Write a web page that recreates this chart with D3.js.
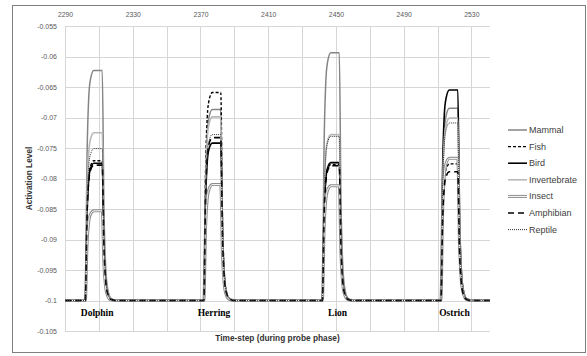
<!DOCTYPE html>
<html lang="en">

<head>
    <meta charset="UTF-8">
    <title>Activation level during probe phase</title>
    <script src="https://d3js.org/d3.v7.min.js"></script>
    <style>
        html,
        body {
            margin: 0;
            padding: 0;
            background: #fff;
        }

        svg {
            display: block;
            font-family: "Liberation Sans", Arial, sans-serif;
        }
    </style>
</head>

<body>
    <svg width="587" height="356"></svg>
    <script>
        // time steps shared by every series (pulse onsets 2302, 2372, 2442, 2512)
        const timeSteps = [2290,
            2302, 2303, 2304, 2305, 2307, 2312, 2313, 2314, 2315, 2317, 2320,
            2372, 2373, 2374, 2375, 2377, 2382, 2383, 2384, 2385, 2387, 2390,
            2442, 2443, 2444, 2445, 2447, 2452, 2453, 2454, 2455, 2457, 2460,
            2512, 2513, 2514, 2515, 2517, 2522, 2523, 2524, 2525, 2527, 2530,
            2541];

        const mammal = [-0.1,
            -0.1, -0.0766, -0.0668, -0.0638, -0.0623, -0.0623, -0.0849, -0.0943, -0.0977, -0.0996, -0.1,
            -0.1, -0.0806, -0.0725, -0.0700, -0.0687, -0.0687, -0.0875, -0.0953, -0.0981, -0.0997, -0.1,
            -0.1, -0.0748, -0.0643, -0.0610, -0.0594, -0.0594, -0.0838, -0.0939, -0.0976, -0.0996, -0.1,
            -0.1, -0.0805, -0.0723, -0.0698, -0.0685, -0.0685, -0.0874, -0.0953, -0.0981, -0.0997, -0.1,
            -0.1];
        const fish = [-0.1,
            -0.1, -0.0858, -0.0798, -0.0780, -0.0771, -0.0771, -0.0908, -0.0966, -0.0986, -0.0998, -0.1,
            -0.1, -0.0789, -0.0700, -0.0673, -0.0659, -0.0659, -0.0864, -0.0949, -0.0980, -0.0997, -0.1,
            -0.1, -0.0862, -0.0804, -0.0786, -0.0777, -0.0777, -0.0911, -0.0967, -0.0987, -0.0998, -0.1,
            -0.1, -0.0861, -0.0803, -0.0785, -0.0776, -0.0776, -0.0910, -0.0966, -0.0987, -0.0998, -0.1,
            -0.1];
        const bird = [-0.1,
            -0.1, -0.0860, -0.0802, -0.0784, -0.0775, -0.0775, -0.0910, -0.0966, -0.0986, -0.0998, -0.1,
            -0.1, -0.0840, -0.0773, -0.0752, -0.0742, -0.0742, -0.0897, -0.0961, -0.0985, -0.0997, -0.1,
            -0.1, -0.0860, -0.0801, -0.0783, -0.0774, -0.0774, -0.0910, -0.0966, -0.0986, -0.0998, -0.1,
            -0.1, -0.0786, -0.0696, -0.0669, -0.0655, -0.0655, -0.0862, -0.0948, -0.0979, -0.0997, -0.1,
            -0.1];
        const invertebrate = [-0.1,
            -0.1, -0.0829, -0.0758, -0.0736, -0.0725, -0.0725, -0.0890, -0.0959, -0.0983, -0.0997, -0.1,
            -0.1, -0.0813, -0.0735, -0.0711, -0.0699, -0.0699, -0.0880, -0.0955, -0.0982, -0.0997, -0.1,
            -0.1, -0.0831, -0.0761, -0.0739, -0.0728, -0.0728, -0.0891, -0.0959, -0.0984, -0.0997, -0.1,
            -0.1, -0.0815, -0.0737, -0.0713, -0.0701, -0.0701, -0.0880, -0.0955, -0.0982, -0.0997, -0.1,
            -0.1];
        const insect = [-0.1,
            -0.1, -0.0909, -0.0871, -0.0859, -0.0853, -0.0853, -0.0941, -0.0978, -0.0991, -0.0999, -0.1,
            -0.1, -0.0882, -0.0833, -0.0818, -0.0810, -0.0810, -0.0924, -0.0971, -0.0989, -0.0998, -0.1,
            -0.1, -0.0883, -0.0835, -0.0820, -0.0812, -0.0812, -0.0925, -0.0972, -0.0989, -0.0998, -0.1,
            -0.1, -0.0856, -0.0795, -0.0776, -0.0767, -0.0767, -0.0907, -0.0965, -0.0986, -0.0998, -0.1,
            -0.1];
        const amphibian = [-0.1,
            -0.1, -0.0862, -0.0805, -0.0787, -0.0778, -0.0778, -0.0911, -0.0967, -0.0987, -0.0998, -0.1,
            -0.1, -0.0834, -0.0765, -0.0744, -0.0733, -0.0733, -0.0893, -0.0960, -0.0984, -0.0997, -0.1,
            -0.1, -0.0863, -0.0806, -0.0788, -0.0779, -0.0779, -0.0912, -0.0967, -0.0987, -0.0998, -0.1,
            -0.1, -0.0869, -0.0814, -0.0797, -0.0789, -0.0789, -0.0916, -0.0968, -0.0987, -0.0998, -0.1,
            -0.1];
        const reptile = [-0.1,
            -0.1, -0.0846, -0.0781, -0.0761, -0.0751, -0.0751, -0.0900, -0.0963, -0.0985, -0.0998, -0.1,
            -0.1, -0.0831, -0.0761, -0.0739, -0.0728, -0.0728, -0.0891, -0.0959, -0.0984, -0.0997, -0.1,
            -0.1, -0.0833, -0.0763, -0.0742, -0.0731, -0.0731, -0.0892, -0.0960, -0.0984, -0.0997, -0.1,
            -0.1, -0.0820, -0.0744, -0.0721, -0.0709, -0.0709, -0.0884, -0.0956, -0.0983, -0.0997, -0.1,
            -0.1];

        const seriesNames = ["Mammal", "Fish", "Bird", "Invertebrate", "Insect", "Amphibian", "Reptile"];
        const seriesValues = [mammal, fish, bird, invertebrate, insect, amphibian, reptile];

        const xTicks = [2290, 2330, 2370, 2410, 2450, 2490, 2530];
        const xGrid = [2290, 2310, 2330, 2350, 2370, 2390, 2410, 2430, 2450, 2470, 2490, 2510, 2530];
        const yTicks = [-0.055, -0.06, -0.065, -0.07, -0.075, -0.08, -0.085, -0.09, -0.095, -0.1, -0.105];
        const yTickLabels = ["-0.055", "-0.06", "-0.065", "-0.07", "-0.075", "-0.08", "-0.085", "-0.09", "-0.095", "-0.1", "-0.105"];

        const pulseLabels = ["Dolphin", "Herring", "Lion", "Ostrich"];
        const pulseLabelT = [2309, 2378, 2451, 2520];

        // line styles per series (same order as seriesNames)
        const styles = [
            { stroke: "#858585", width: 1.5, dash: null },
            { stroke: "#000", width: 1.4, dash: "3,2" },
            { stroke: "#000", width: 1.6, dash: null },
            { stroke: "#b8b8b8", width: 1.6, dash: null },
            { stroke: "#8c8c8c", width: 3, dash: null, inner: "#fff" },
            { stroke: "#000", width: 1.6, dash: "6,4" },
            { stroke: "#333", width: 1, dash: "1,1" }
        ];

        const svg = d3.select("svg");
        const plotL = 65, plotR = 490, plotT = 26, plotB = 331;

        const x = d3.scaleLinear().domain([2290, 2541]).range([plotL, plotR]);
        const y = d3.scaleLinear().domain([-0.105, -0.055]).range([plotB, plotT]);

        // cadre extérieur
        svg.append("rect")
            .attr("x", 12.5).attr("y", 5.5)
            .attr("width", 573).attr("height", 347)
            .attr("fill", "#fff")
            .attr("stroke", "#7f7f7f");

        // grille
        const grid = svg.append("g");
        grid.selectAll("line.h")
            .data(yTicks)
            .join("line")
            .attr("class", "h")
            .attr("x1", plotL).attr("x2", plotR)
            .attr("y1", d => Math.round(y(d)) + 0.5)
            .attr("y2", d => Math.round(y(d)) + 0.5)
            .attr("stroke", "#d6d6d6");
        grid.selectAll("line.v")
            .data(xGrid)
            .join("line")
            .attr("class", "v")
            .attr("y1", plotT).attr("y2", plotB)
            .attr("x1", d => Math.round(x(d)) + 0.5)
            .attr("x2", d => Math.round(x(d)) + 0.5)
            .attr("stroke", "#d6d6d6");

        // axes
        const yAxis = svg.append("g")
            .attr("transform", `translate(${plotL - 5},0)`)
            .call(d3.axisLeft(y).tickValues(yTicks).tickSize(0)
                .tickFormat((d, i) => yTickLabels[i]));
        yAxis.select(".domain").remove();
        yAxis.selectAll("text")
            .attr("font-size", 7)
            .attr("font-family", "Liberation Sans, Arial, sans-serif")
            .attr("fill", "#595959");

        const xAxis = svg.append("g")
            .attr("transform", `translate(0,${plotT - 6})`)
            .call(d3.axisTop(x).tickValues(xTicks).tickSize(0).tickFormat(d3.format("d")));
        xAxis.select(".domain").remove();
        xAxis.selectAll("text")
            .attr("font-size", 6.8)
            .attr("font-family", "Liberation Sans, Arial, sans-serif")
            .attr("fill", "#595959");

        // courbes
        const line = d3.line()
            .x((d, i) => x(timeSteps[i]))
            .y(d => y(d))
            .curve(d3.curveMonotoneX);

        const lines = svg.append("g");
        seriesValues.forEach((vals, k) => {
            const s = styles[k];
            lines.append("path")
                .attr("d", line(vals))
                .attr("fill", "none")
                .attr("stroke", s.stroke)
                .attr("stroke-width", s.width)
                .attr("stroke-dasharray", s.dash)
                .attr("stroke-linejoin", "round");
            if (s.inner) {
                lines.append("path")
                    .attr("d", line(vals))
                    .attr("fill", "none")
                    .attr("stroke", s.inner)
                    .attr("stroke-width", 1);
            }
        });

        // étiquettes des stimuli
        svg.append("g").selectAll("text")
            .data(pulseLabels)
            .join("text")
            .attr("x", (d, i) => x(pulseLabelT[i]))
            .attr("y", 316)
            .attr("text-anchor", "middle")
            .attr("font-family", "Liberation Serif, Times New Roman, serif")
            .attr("font-weight", "bold")
            .attr("font-size", 9.5)
            .text(d => d);

        // titres d'axes
        svg.append("text")
            .attr("x", (plotL + plotR) / 2)
            .attr("y", 341)
            .attr("text-anchor", "middle")
            .attr("font-size", 8.3)
            .attr("font-weight", "bold")
            .attr("fill", "#333")
            .text("Time-step (during probe phase)");

        svg.append("text")
            .attr("transform", `translate(32,${(plotT + plotB) / 2}) rotate(-90)`)
            .attr("text-anchor", "middle")
            .attr("font-size", 8.3)
            .attr("font-weight", "bold")
            .attr("fill", "#333")
            .text("Activation Level");

        // légende
        const legend = svg.append("g");
        seriesNames.forEach((name, k) => {
            const s = styles[k];
            const ly = 130 + k * 16.6;
            legend.append("line")
                .attr("x1", 508).attr("x2", 527)
                .attr("y1", ly).attr("y2", ly)
                .attr("stroke", s.stroke)
                .attr("stroke-width", s.width)
                .attr("stroke-dasharray", s.dash);
            if (s.inner) {
                legend.append("line")
                    .attr("x1", 508).attr("x2", 527)
                    .attr("y1", ly).attr("y2", ly)
                    .attr("stroke", s.inner)
                    .attr("stroke-width", 1);
            }
            legend.append("text")
                .attr("x", 529)
                .attr("y", ly + 3)
                .attr("font-size", 9)
                .attr("fill", "#404040")
                .text(name);
        });
    </script>
</body>

</html>
